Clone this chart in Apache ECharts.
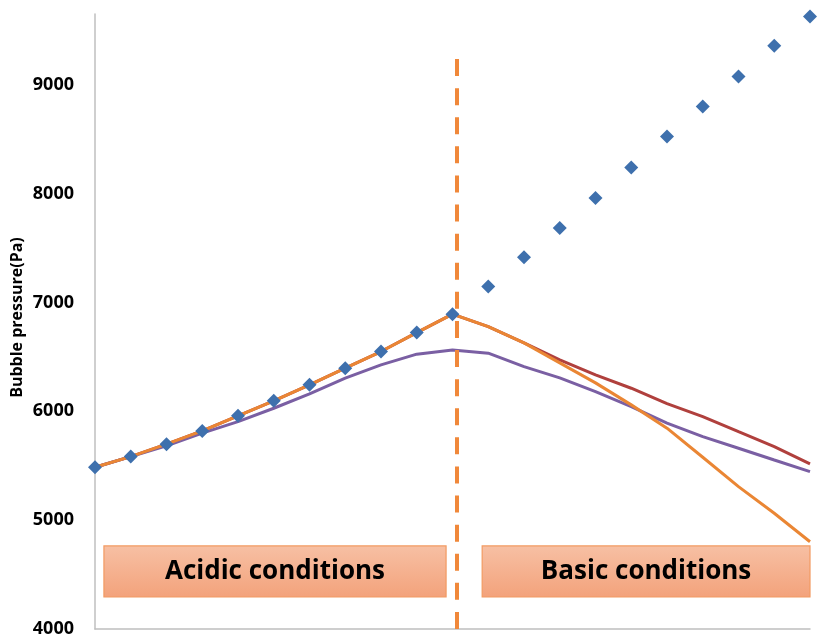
<!DOCTYPE html>
<html>
<head>
<meta charset="utf-8">
<script src="https://cdn.jsdelivr.net/npm/echarts@6/dist/echarts.min.js"></script>
<style>
html,body{margin:0;padding:0;background:#fff;}
#chart{width:817px;height:637px;}
</style>
</head>
<body>
<div id="chart"></div>
<script>
// x positions (sample steps)
const steps = [0,1,2,3,4,5,6,7,8,9,10,11,12,13,14,15,16,17,18,19,20];
// measured bubble pressure (diamonds)
const measured = [5486,5584,5698,5820,5958,6096,6243,6396,6549,6723,6892,7146,7416,7683,7959,8240,8525,8801,9076,9358,9628];
// model curves
const orangeModel = [5486,5584,5698,5820,5958,6096,6243,6396,6549,6723,6892,6778,6629,6445,6261,6059,5845,5578,5308,5063,4802];
const redModel    = [5486,5584,5698,5820,5958,6096,6243,6396,6549,6723,6892,6778,6629,6472,6335,6212,6070,5951,5813,5676,5517];
const purpleModel = [5486,5584,5682,5799,5905,6028,6160,6304,6426,6525,6564,6534,6411,6307,6181,6043,5891,5767,5661,5553,5446];
// annotations
const dividerX = 10.12;
const dividerY = [9236, 4000];
const regionLabels = ['Acidic conditions', 'Basic conditions'];
const regionX = [[0.25, 9.82], [10.83, 20.2]];
const regionY = [4294, 4763];
const yTicks = [4000, 5000, 6000, 7000, 8000, 9000];

const pair = arr => steps.map((x, i) => [x, arr[i]]);

const boxFill = new echarts.graphic.LinearGradient(0, 0, 0, 1, [
  {offset: 0, color: '#F7C0A4'},
  {offset: 1, color: '#F3A27B'}
]);

const chart = echarts.init(document.getElementById('chart'), null, {renderer: 'canvas'});
chart.setOption({
  animation: false,
  backgroundColor: '#ffffff',
  grid: {left: 95, right: 7, top: 14, bottom: 8, containLabel: false, outerBoundsMode: 'none'},
  xAxis: {
    type: 'value', min: 0, max: 20,
    axisLine: {show: true, lineStyle: {color: '#BFBFBF', width: 1.5}},
    axisTick: {show: false}, axisLabel: {show: false}, splitLine: {show: false}
  },
  yAxis: {
    type: 'value', min: 4000, max: 9650, interval: 1000,
    name: 'Bubble pressure(Pa)', nameLocation: 'middle', nameGap: 70, nameRotate: 90,
    nameMoveOverlap: false,
    nameTextStyle: {fontFamily: 'Open Sans', fontWeight: 'bold', fontSize: 16, color: '#000', padding: [0, 0, 0, 8]},
    axisLine: {show: true, lineStyle: {color: '#BFBFBF', width: 1.5}},
    axisTick: {show: false},
    splitLine: {show: false},
    axisLabel: {
      margin: 21, fontFamily: 'Open Sans', fontWeight: 'bold', fontSize: 18, color: '#000',
      formatter: v => (yTicks.indexOf(v) >= 0 ? String(v) : '')
    }
  },
  series: [
    {
      type: 'line', name: 'divider', data: [], silent: true,
      markLine: {
        silent: true, symbol: 'none', label: {show: false},
        lineStyle: {color: '#F0883A', width: 4, type: [17, 12.1]},
        data: [[{coord: [dividerX, dividerY[0]]}, {coord: [dividerX, dividerY[1]]}]]
      },
      markArea: {
        silent: true,
        itemStyle: {color: boxFill, borderColor: '#F29A62', borderWidth: 1.2},
        label: {show: true, position: 'inside', fontFamily: 'Open Sans', fontWeight: 'bold', fontSize: 26, color: '#000'},
        data: regionLabels.map((name, i) => [
          {name: name, coord: [regionX[i][0], regionY[1]]},
          {coord: [regionX[i][1], regionY[0]]}
        ])
      },
      clip: false
    },
    {
      type: 'line', name: 'red', data: pair(redModel), showSymbol: false, symbol: 'none',
      lineStyle: {color: '#B0403D', width: 3}, z: 2, clip: false
    },
    {
      type: 'line', name: 'purple', data: pair(purpleModel), showSymbol: false, symbol: 'none',
      lineStyle: {color: '#7A5FA3', width: 3}, z: 3, clip: false
    },
    {
      type: 'line', name: 'orange', data: pair(orangeModel), showSymbol: false, symbol: 'none',
      lineStyle: {color: '#EA8634', width: 3}, z: 4, clip: false
    },
    {
      type: 'scatter', name: 'measured', data: pair(measured), symbol: 'diamond', symbolSize: [14, 14],
      itemStyle: {color: '#3E70AD', opacity: 1}, z: 5, clip: false
    }
  ]
});
</script>
</body>
</html>
